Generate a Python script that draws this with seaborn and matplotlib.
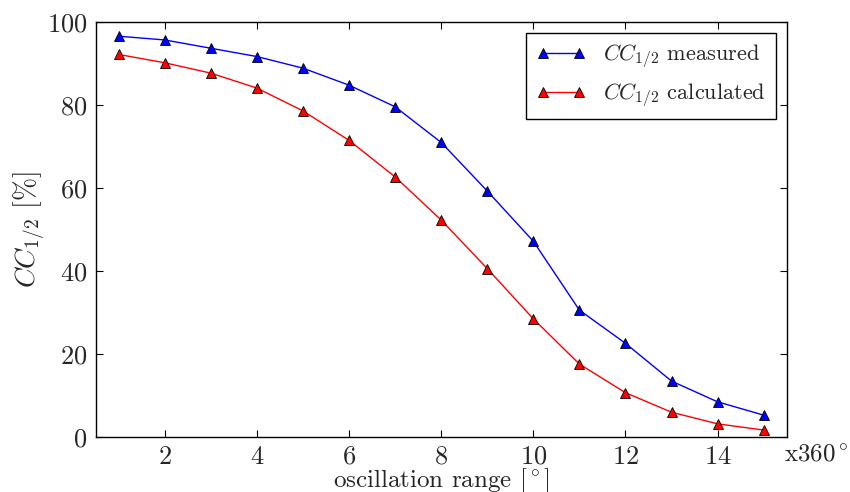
import matplotlib
matplotlib.use("Agg")
import matplotlib.pyplot as plt
import seaborn as sns
import pandas as pd

oscillation = list(range(1, 16))
measured = [96.5, 95.6, 93.6, 91.6, 88.8, 84.7, 79.5, 70.9, 59.2, 47.1, 30.5, 22.5, 13.4, 8.4, 5.2]
calculated = [92.1, 90.1, 87.6, 84.0, 78.5, 71.4, 62.6, 52.2, 40.5, 28.4, 17.5, 10.6, 5.9, 3.1, 1.6]
series_names = [r"$CC_{1/2}$ measured", r"$CC_{1/2}$ calculated"]
x_ticks = [2, 4, 6, 8, 10, 12, 14]
y_ticks = [0, 20, 40, 60, 80, 100]

sns.set_style("ticks")
plt.rcParams["font.family"] = ["cmr10", "DejaVu Serif"]
plt.rcParams["mathtext.fontset"] = "cm"
plt.rcParams["axes.formatter.use_mathtext"] = True
plt.rcParams["axes.unicode_minus"] = False

df = pd.DataFrame({
    "x": oscillation * 2,
    "y": measured + calculated,
    "series": [series_names[0]] * len(oscillation) + [series_names[1]] * len(oscillation),
})

fig = plt.figure(figsize=(8.5, 4.92), dpi=100)
ax = fig.add_axes([0.1126, 0.1124, 0.8129, 0.8435])

sns.lineplot(data=df, x="x", y="y", hue="series", style="series",
             palette={series_names[0]: "#0000ff", series_names[1]: "#ff0000"},
             markers={series_names[0]: "^", series_names[1]: "^"},
             dashes=False, markersize=7, markeredgecolor="black",
             markeredgewidth=0.6, linewidth=1.0, ax=ax)

ax.set_xlim(0.5, 15.5)
ax.set_ylim(0, 100)
ax.set_xticks(x_ticks)
ax.set_yticks(y_ticks)
ax.tick_params(direction="in", top=True, right=True, labelsize=19, length=5,
               width=0.8, color="black", pad=6)
for sp in ax.spines.values():
    sp.set_color("black")
    sp.set_linewidth(1.0)

ax.set_xlabel(r"oscillation range [$^\circ$]", fontsize=18, labelpad=-1.5)
ax.set_ylabel(r"$CC_{1/2}$ [%]", fontsize=20, labelpad=0)
fig.text(0.998, 0.075, r"x360$^\circ$", fontsize=18, ha="right", va="center")

handles, labels = ax.get_legend_handles_labels()
leg = ax.legend(handles, labels, loc="upper right", fontsize=16, frameon=True,
                fancybox=False, framealpha=1, edgecolor="black",
                borderpad=0.45, handlelength=2.2, numpoints=2,
                borderaxespad=0, bbox_to_anchor=(0.9845, 0.973))
leg.get_frame().set_linewidth(1.0)

fig.savefig("out.png", dpi=100)
